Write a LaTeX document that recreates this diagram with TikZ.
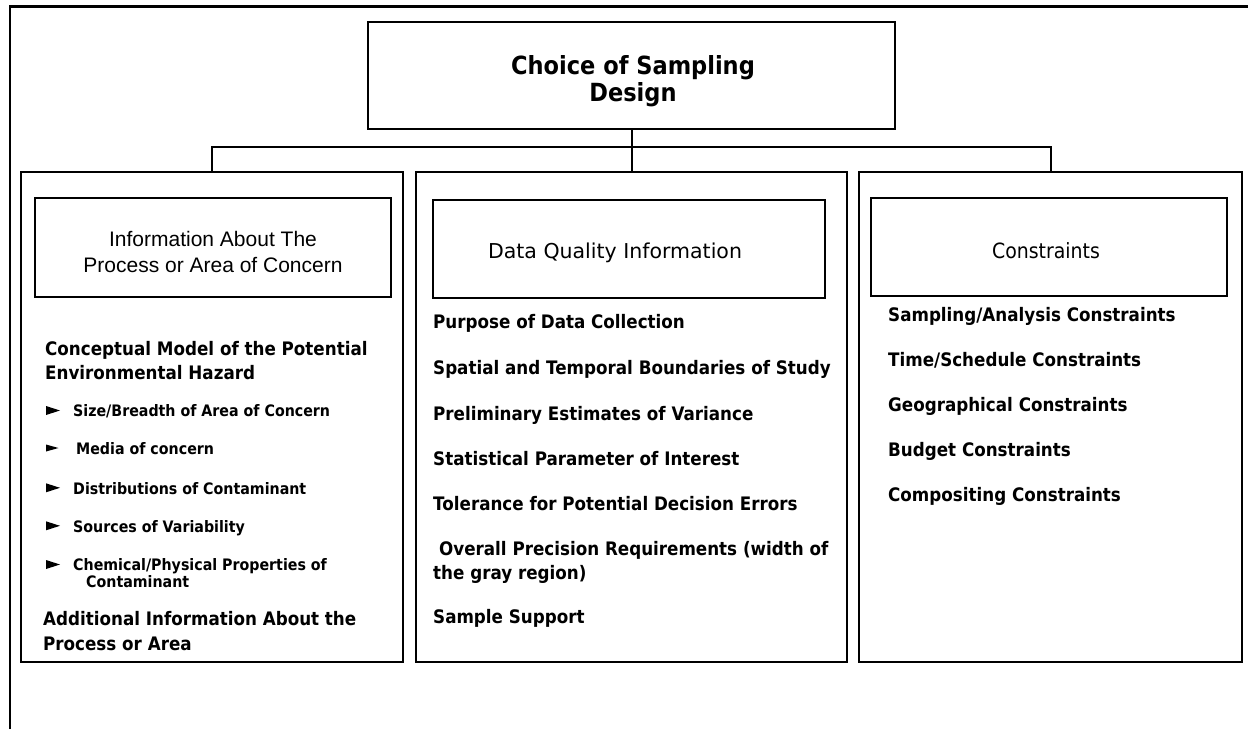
\documentclass[tikz,border=0pt]{standalone}
\usepackage{fontspec}
\setmainfont{DejaVu Sans}
\newfontfamily\tah[FakeStretch=0.9]{DejaVu Sans}
\newfontfamily\vrd{DejaVu Sans}
\newfontfamily\arl{Liberation Sans}
\tikzset{
  frameline/.style={line width=2.5pt},
  boxdraw/.style={draw, line width=2pt, inner sep=0pt},
  conn/.style={line width=2pt},
  item/.style={anchor=base west, inner sep=0pt, font=\tah\bfseries\fontsize{18.6}{24}\selectfont},
  subitem/.style={anchor=base west, inner sep=0pt, font=\tah\bfseries\fontsize{15.8}{17}\selectfont},
  headtxt/.style={anchor=base, inner sep=0pt, font=\tah\fontsize{21}{26}\selectfont},
  bul/.style={fill=black},
}
\begin{document}
\begin{tikzpicture}[x=1pt,y=-1pt]
\useasboundingbox (0,0) rectangle (1248,729);
% outer frame
\draw[frameline] (10,729) -- (10,6.5) -- (1248,6.5);
% boxes
\node[boxdraw, minimum width=527pt, minimum height=107pt] (title) at (631.5,75.5) {};
\node[boxdraw, minimum width=382pt, minimum height=490pt] (leftcol) at (212,417) {};
\node[boxdraw, minimum width=431pt, minimum height=490pt] (midcol) at (631.5,417) {};
\node[boxdraw, minimum width=383pt, minimum height=490pt] (rightcol) at (1050.5,417) {};
\node[boxdraw, minimum width=356pt, minimum height=99pt] (lefthead) at (213,247.5) {};
\node[boxdraw, minimum width=392pt, minimum height=98pt] (midhead) at (629,249) {};
\node[boxdraw, minimum width=356pt, minimum height=98pt] (righthead) at (1049,247) {};
% connectors
\draw[conn] (leftcol.north) -- ++(0,-24) -| (rightcol.north);
\draw[conn] (title.south -| midcol.north) -- (midcol.north);
% title
\node[anchor=base, inner sep=0pt, font=\tah\bfseries\fontsize{25}{28}\selectfont] (t1) at (633,74) {Choice of Sampling};
\node[anchor=base, inner sep=0pt, font=\tah\bfseries\fontsize{25}{28}\selectfont] (t2) at (633,101.7) {Design};
% headers
\node[anchor=base, inner sep=0pt, font=\arl\fontsize{21}{26}\selectfont] (lh1) at (213,246) {Information About The};
\node[anchor=base, inner sep=0pt, font=\arl\fontsize{21}{26}\selectfont] (lh2) at (213,272) {Process or Area of Concern};
\node[headtxt, font=\vrd\fontsize{20.5}{26}\selectfont] (mh) at (615,258) {Data Quality Information};
\node[headtxt] (rh) at (1046,258) {Constraints};
% left column
\node[item] (l1) at (45,355.7) {Conceptual Model of the Potential};
\node[item] (l2) at (45,379) {Environmental Hazard};
\node[subitem] (b1) at (73,416.7) {Size/Breadth of Area of Concern};
\node[subitem] (b2) at (76,454) {Media of concern};
\node[subitem] (b3) at (73,494) {Distributions of Contaminant};
\node[subitem] (b4) at (73,532) {Sources of Variability};
\node[subitem] (b5) at (73,570.7) {Chemical/Physical Properties of};
\node[subitem] (b6) at (86,587.3) {Contaminant};
\node[item] (l3) at (43,625) {Additional Information About the};
\node[item] (l4) at (43,650) {Process or Area};
% bullets
\foreach \by in {416.7,494,532,570.7}{
  \fill[bul] (46,\by-10.7) -- (46,\by-1.7) -- (60,\by-6.2) -- cycle;
}
\fill[bul] (46,454-9.5) -- (46,454-2.5) -- (58.5,454-6) -- cycle;
% middle column
\node[item] (m1) at (433,328) {Purpose of Data Collection};
\node[item] (m2) at (433,374) {Spatial and Temporal Boundaries of Study};
\node[item] (m3) at (433,420) {Preliminary Estimates of Variance};
\node[item] (m4) at (433,465.7) {Statistical Parameter of Interest};
\node[item] (m5) at (433,510) {Tolerance for Potential Decision Errors};
\node[item] (m6) at (439,555.7) {Overall Precision Requirements (width of};
\node[item] (m7) at (433,579.5) {the gray region)};
\node[item] (m8) at (433,623) {Sample Support};
% right column
\node[item] (r1) at (888,321) {Sampling/Analysis Constraints};
\node[item] (r2) at (888,366.5) {Time/Schedule Constraints};
\node[item] (r3) at (888,411.5) {Geographical Constraints};
\node[item] (r4) at (888,456.5) {Budget Constraints};
\node[item] (r5) at (888,501.5) {Compositing Constraints};
\end{tikzpicture}
\end{document}
